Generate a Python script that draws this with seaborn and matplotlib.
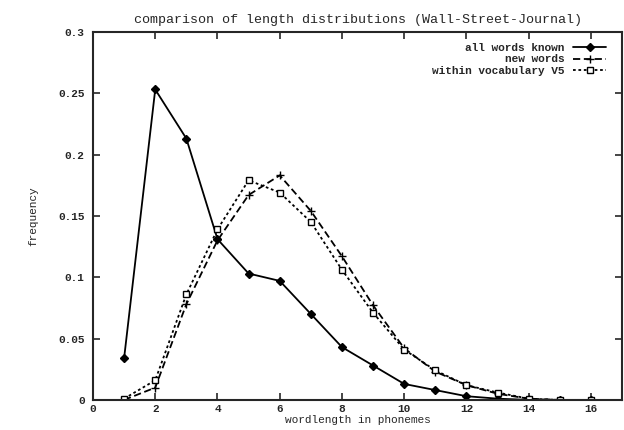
import pandas as pd
import matplotlib
matplotlib.use("Agg")
import matplotlib.pyplot as plt
import seaborn as sns

sns.set_style("ticks")
plt.rcParams['font.family'] = ['Liberation Mono', 'DejaVu Sans Mono']
plt.rcParams['font.weight'] = 'bold'
plt.rcParams['font.size'] = 8

lengths = list(range(1, 17))
all_known = [0.034, 0.253, 0.213, 0.131, 0.103, 0.097, 0.070, 0.043,
             0.028, 0.013, 0.008, 0.003, 0.001, 0.0, 0.0, 0.0]
new_words = [0.0, 0.010, 0.078, 0.130, 0.167, 0.183, 0.154, 0.117,
             0.077, 0.042, 0.023, 0.012, 0.005, 0.001, 0.0, 0.0]
within_v5 = [0.001, 0.016, 0.086, 0.139, 0.179, 0.169, 0.145, 0.106,
             0.071, 0.041, 0.024, 0.012, 0.006, 0.001, 0.0, 0.0]

series = [
    ("all words known", all_known, "-", "D", "black", 4),
    ("new words", new_words, (0, (4, 2)), "+", "black", 6),
    ("within vocabulary V5", within_v5, (0, (1.5, 1.5)), "s", "white", 5),
]

fig = plt.figure(figsize=(6.24, 4.30), dpi=100)
ax = fig.add_axes([0.149, 0.070, 0.848, 0.856])

for name, vals, ls, mk, fc, ms in series:
    df = pd.DataFrame({"x": lengths, "y": vals})
    sns.lineplot(data=df, x="x", y="y", ax=ax, color="black", linestyle=ls,
                 marker=mk, markersize=ms, markerfacecolor=fc,
                 markeredgecolor="black", markeredgewidth=1.0,
                 linewidth=1.3, label=name)

ax.set_xlim(0, 17)
ax.set_ylim(0, 0.3)
ax.set_xticks(range(0, 17, 2))
ax.set_yticks([0, 0.05, 0.1, 0.15, 0.2, 0.25, 0.3])
ax.set_yticklabels(["0", "0.05", "0.1", "0.15", "0.2", "0.25", "0.3"])
ax.tick_params(direction="in", top=True, right=True, length=5, width=1.2)
ax.tick_params(axis="x", pad=3)
ax.tick_params(axis="y", pad=6)
for s in ax.spines.values():
    s.set_linewidth(1.5)

ax.set_xlabel("wordlength in phonemes", labelpad=1)
ax.set_ylabel("frequency", labelpad=14)
ax.set_title("comparison of length distributions (Wall-Street-Journal)", pad=6)

leg = ax.legend(loc="upper right", frameon=False, markerfirst=False,
                handlelength=3, borderaxespad=0.3, labelspacing=0.1,
                bbox_to_anchor=(0.985, 0.99))
for t in leg.get_texts():
    t.set_ha("right")

fig.savefig("out.png", dpi=100)
